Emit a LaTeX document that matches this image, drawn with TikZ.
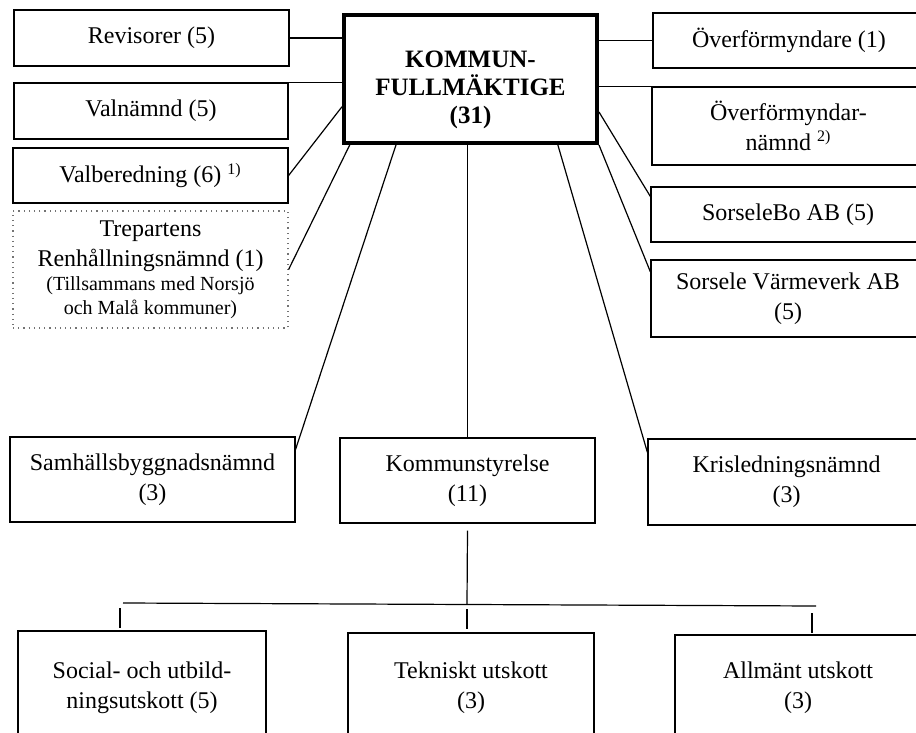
\documentclass[tikz,border=0pt]{standalone}
\usepackage{fontspec}
\setmainfont{Liberation Serif}
\usetikzlibrary{calc}
\definecolor{rahmengrau}{rgb}{0.45,0.45,0.45}

\begin{document}
\begin{tikzpicture}[x=0.5pt, y=-0.5pt, % 1 Einheit = 1 Pixel der Vorlage
  kasten/.style={draw, line width=0.6pt, align=center, inner sep=2pt, font=\fontsize{12}{15}\selectfont},
  linie/.style={line width=0.6pt}]

\useasboundingbox (0,0) rectangle (916,733);
\clip (0,0) rectangle (916,733);

% Kommunfullmäktige
\node[kasten, line width=2pt, minimum width=126.5pt, minimum height=64pt, font=\bfseries\fontsize{12.5}{14}\selectfont] (kf) at (470.5,79) {\rule{0pt}{19pt}KOMMUN-\\FULLMÄKTIGE\\(31)};

% linke Spalte
\node[kasten, minimum width=137.5pt, minimum height=28pt] (rev) at (151.5,38) {Revisorer (5)};
\node[kasten, minimum width=137pt, minimum height=28pt] (valn) at (151,111) {Valnämnd (5)};
\node[kasten, minimum width=137.5pt, minimum height=27.5pt] (valb) at (150.5,175.5) {Valberedning (6) \textsuperscript{1)}};
\node[kasten, draw=rahmengrau, dotted, minimum width=137.5pt, minimum height=58.5pt] (trep) at (150.5,269.5)
  {Trepartens\\Renhållningsnämnd (1)\\[-3pt]\fontsize{10}{12}\selectfont(Tillsammans med Norsjö\\[-3pt]\fontsize{10}{12}\selectfont och Malå kommuner)};

% rechte Spalte
\node[kasten, minimum width=136pt, minimum height=27.5pt] (ovf) at (789,40.5) {Överförmyndare (1)};
\node[kasten, minimum width=136.5pt, minimum height=39pt] (ovfn) at (788.5,126) {Överförmyndar-\\nämnd \textsuperscript{2)}};
\node[kasten, minimum width=137pt, minimum height=27.5pt] (sbo) at (788,214.5) {SorseleBo AB (5)};
\node[kasten, minimum width=137pt, minimum height=38.5pt] (svv) at (788,298.5) {Sorsele Värmeverk AB\\(5)};

% mittlere Reihe
\node[kasten, minimum width=142.5pt, minimum height=42.5pt] (shb) at (152.5,479.5) {Samhällsbyggnadsnämnd\\(3)};
\node[kasten, minimum width=127.5pt, minimum height=42.5pt] (ks) at (467.5,480.5) {Kommunstyrelse\\(11)};
\node[kasten, minimum width=138.5pt, minimum height=43pt] (kris) at (786.5,482) {Krisledningsnämnd\\(3)};

% Ausschüsse (unten abgeschnitten)
\node[kasten, minimum width=124pt, minimum height=57pt] (soc) at (142,688) {Social- och utbild-\\ningsutskott (5)};
\node[kasten, minimum width=123pt, minimum height=55pt] (tek) at (471,688) {Tekniskt utskott\\(3)};
\node[kasten, minimum width=123pt, minimum height=53pt] (allm) at (798,688) {Allmänt utskott\\(3)};

% Verbindungen zum Fullmäktige
\draw[linie] (rev.east) -- (rev.east -| kf.west);
\draw[linie] (valn.north east) -- (valn.north east -| kf.west);
\draw[linie] (valb.east) -- ($(kf.north west)!0.71!(kf.south west)$);
\draw[linie] (trep.east) -- ($(kf.south west)!0.03!(kf.south east)$);
\draw[linie] ($(shb.north east)!0.15!(shb.south east)$) -- ($(kf.south west)!0.21!(kf.south east)$);
\draw[linie] (ks.north |- kf.south) -- (ks.north);
\draw[linie] ($(kf.south west)!0.84!(kf.south east)$) -- ($(kris.north west)!0.16!(kris.south west)$);
\draw[linie] (kf.east |- ovf.west) -- (ovf.west);
\draw[linie] (kf.east |- ovfn.north west) -- (ovfn.north west);
\draw[linie] ($(kf.north east)!0.75!(kf.south east)$) -- ($(sbo.north west)!0.18!(sbo.south west)$);
\draw[linie] (kf.south east) -- ($(svv.north west)!0.16!(svv.south west)$);

% Kommunstyrelse -> Ausschüsse
\coordinate (bar) at (467,604);
\coordinate (barl) at (123,603);
\coordinate (barr) at (816,606);
\draw[linie] ([yshift=-3.5pt]ks.south) -- (bar);
\draw[linie] (barl) -- (barr);
\foreach \xt/\yt in {120/608, 467/609, 812/613}
  \draw[linie] (\xt,\yt) -- ++(0,20); % kurze Striche

\end{tikzpicture}
\end{document}
